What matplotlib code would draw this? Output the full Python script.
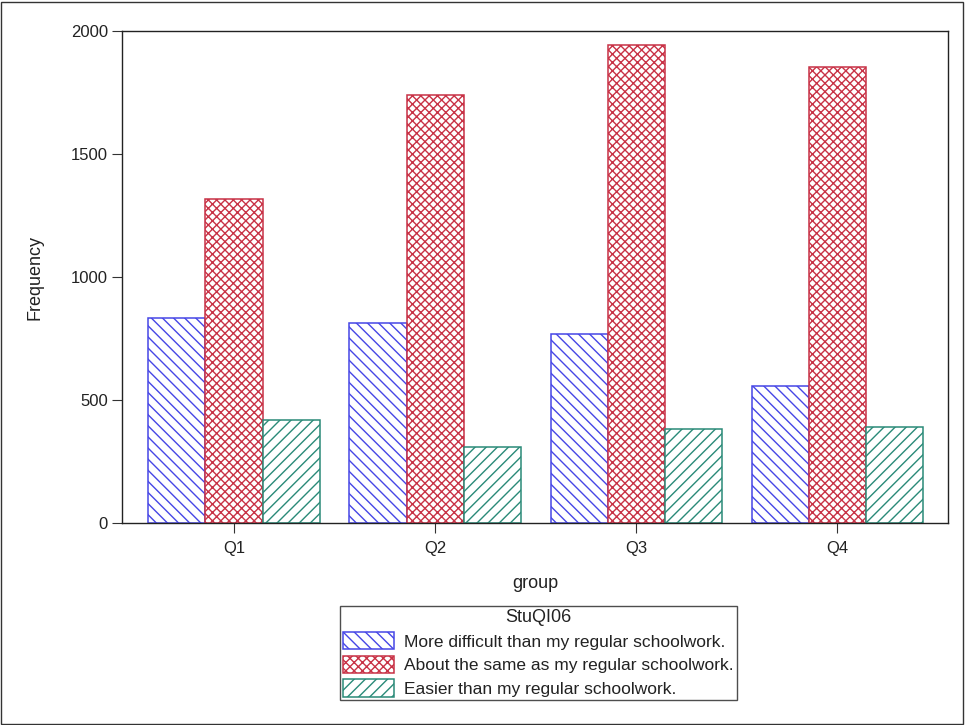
import matplotlib
matplotlib.use("Agg")
import matplotlib.pyplot as plt
import numpy as np
from matplotlib.patches import Rectangle

plt.rcParams['font.family'] = ['Liberation Sans', 'DejaVu Sans']
plt.rcParams['hatch.linewidth'] = 1.0

groups = ["Q1", "Q2", "Q3", "Q4"]
series_labels = [
    "More difficult than my regular schoolwork.",
    "About the same as my regular schoolwork.",
    "Easier than my regular schoolwork.",
]
more_difficult = [832, 813, 768, 558]
about_same = [1317, 1741, 1942, 1855]
easier = [419, 309, 382, 391]

colors = ["#4646E6", "#C83246", "#2A8A78"]
hatches = ["\\\\\\", "xxxx", "///"]

fig = plt.figure(figsize=(9.65, 7.25), dpi=100)
ax = fig.add_axes([122 / 965, 1 - 523 / 725, 826 / 965, 492 / 725])

x = np.arange(len(groups))
width = 0.284
for i, (vals, col, h, lab) in enumerate(zip([more_difficult, about_same, easier],
                                            colors, hatches, series_labels)):
    ax.bar(x + (i - 1) * width, vals, width, facecolor="white", edgecolor=col,
           hatch=h, linewidth=1.1, label=lab)

ax.set_xlim(-0.557, 3.55)
ax.set_ylim(0, 2000)
ax.set_yticks([0, 500, 1000, 1500, 2000])
ax.set_xticks(x)
ax.set_xticklabels(groups)
ax.tick_params(labelsize=12, length=7, width=0.8, colors="#333333", labelcolor="#222222")
ax.tick_params(axis="x", pad=6)
ax.tick_params(axis="y", pad=3)
ax.set_xlabel("group", fontsize=13, labelpad=14, color="#222222")
ax.set_ylabel("Frequency", fontsize=13, labelpad=20, color="#222222")
for s in ax.spines.values():
    s.set_linewidth(1.0)
    s.set_color("#222222")

leg = fig.legend(loc="center", bbox_to_anchor=(538.5 / 965, 1 - 653 / 725),
                 title="StuQI06", fontsize=12.5, title_fontsize=13, frameon=True,
                 fancybox=False, edgecolor="#222222", handlelength=2.9, handleheight=1.15,
                 handletextpad=0.6, labelspacing=0.35, borderpad=0.2, borderaxespad=0)
leg.get_frame().set_linewidth(1.0)
for t in leg.get_texts():
    t.set_color("#222222")
leg.get_title().set_color("#222222")

fig.patches.append(Rectangle((1 / 965, 1 / 725), 962 / 965, 722 / 725, transform=fig.transFigure,
                             fill=False, edgecolor="#333333", linewidth=1.0))

fig.savefig("out.png", dpi=100)
